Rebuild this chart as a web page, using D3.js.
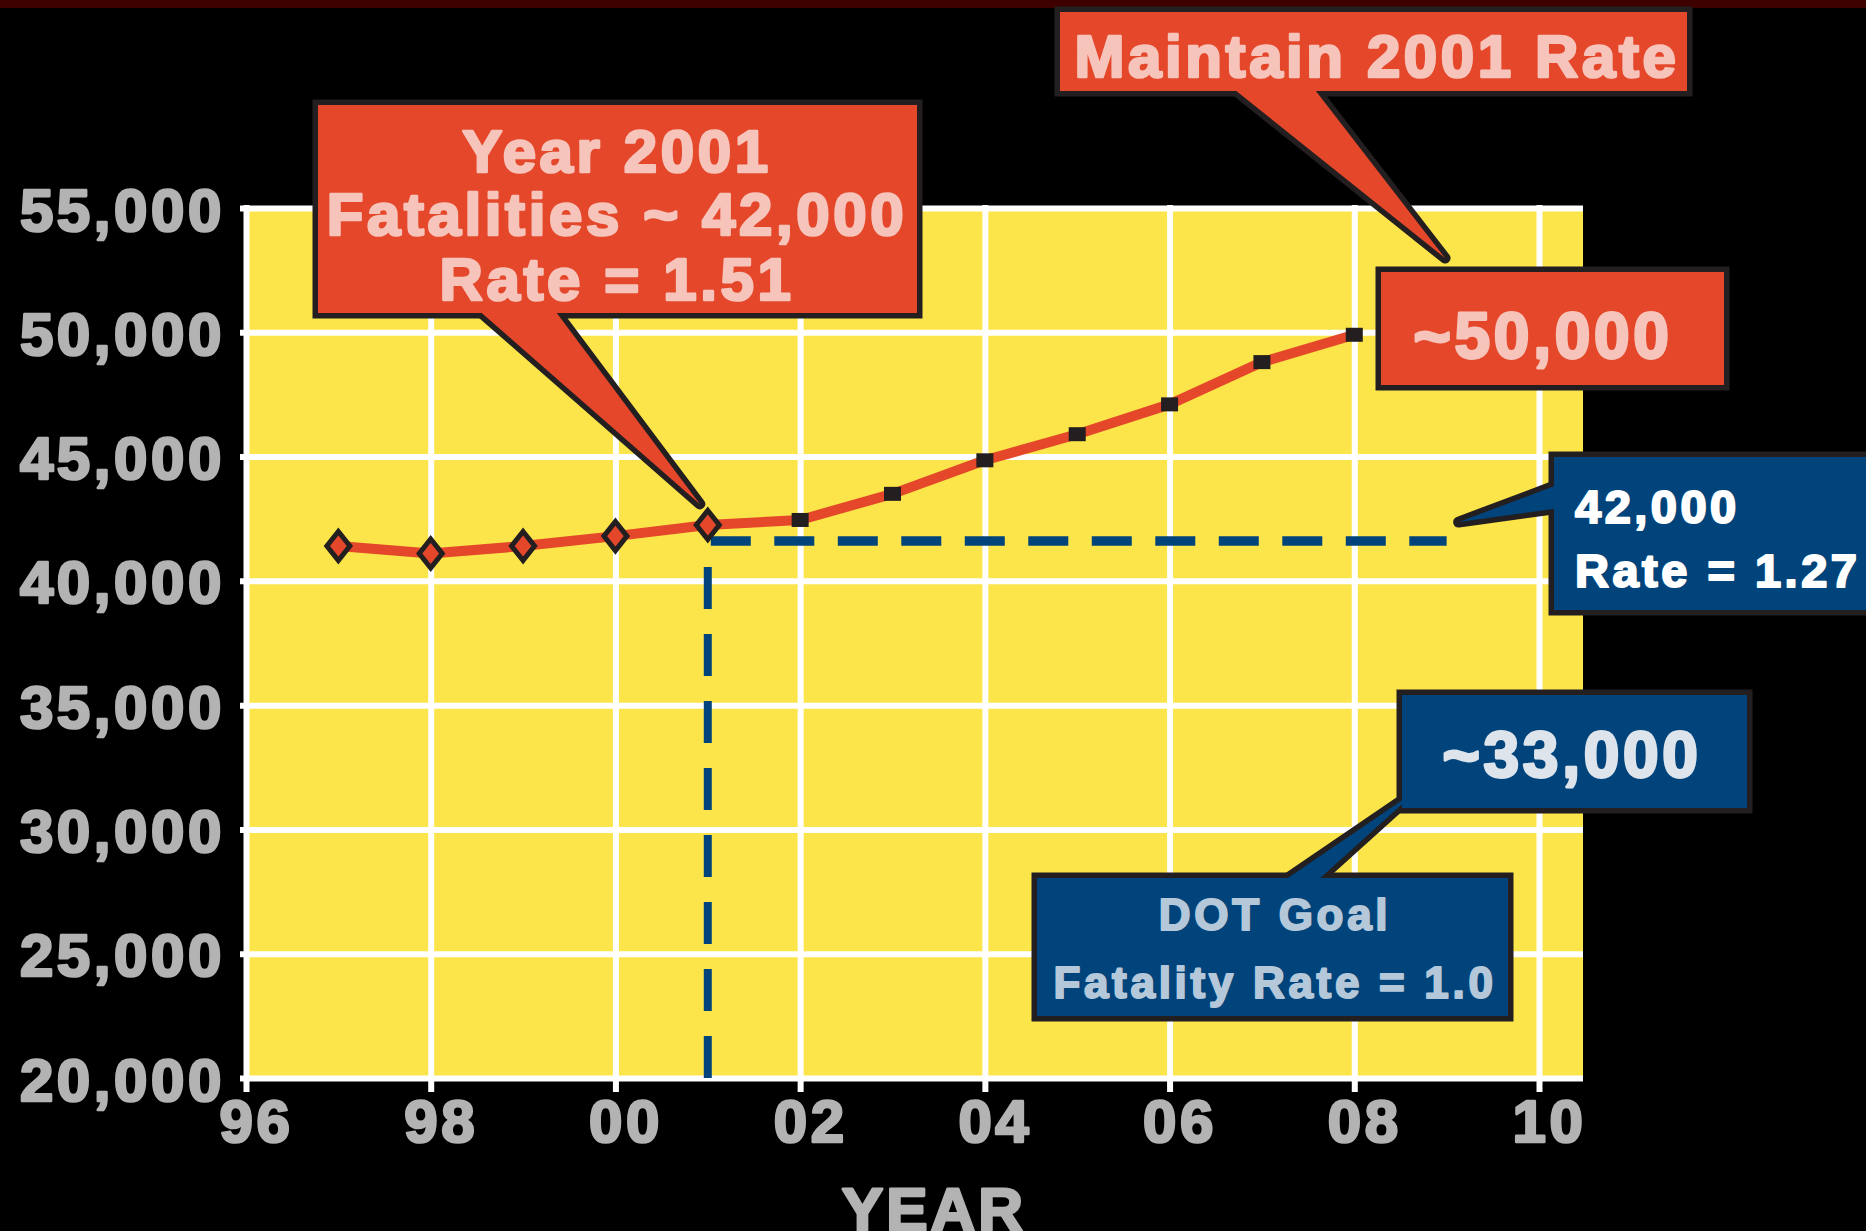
<!DOCTYPE html>
<html>
<head>
<meta charset="utf-8">
<script src="https://cdn.jsdelivr.net/npm/d3@7"></script>
<style>
body { margin: 0; background: #000; }
svg { display: block; }
text { font-family: "Liberation Sans", Arial, sans-serif; font-weight: bold; }
</style>
</head>
<body>
<svg id="chart" width="1866" height="1231"></svg>
<script>
// values
var actualYears = [1997, 1998, 1999, 2000, 2001]
var actualDeaths = [41400, 41100, 41400, 41800, 42250]
var projYears = [2002, 2003, 2004, 2005, 2006, 2007, 2008]
var projDeaths = [42450, 43500, 44850, 45900, 47100, 48800, 49900]
var xTickYears = [1996, 1998, 2000, 2002, 2004, 2006, 2008, 2010]
var xTickLabels = ['96', '98', '00', '02', '04', '06', '08', '10']
var yTicks = [20000, 25000, 30000, 35000, 40000, 45000, 50000, 55000]
var flatLevel = 41600      // dashed "hold 2001" line
var flatFrom = 2001, flatTo = 2009
var dropTop = 40750        // top of the vertical dashed line at 2001

var noteYear = ['Year 2001', 'Fatalities ~ 42,000', 'Rate = 1.51']
var noteMaintain = ['Maintain 2001 Rate']
var note50k = ['~50,000']
var note42k = ['42,000', 'Rate = 1.27']
var note33k = ['~33,000']
var noteGoal = ['DOT Goal', 'Fatality Rate = 1.0']

var W = 1866, H = 1231
var red = '#e4472a', ink = '#231f20', navy = '#00447b', yellow = '#fce54a', grey = '#b3b3b3'
var plot = { l: 246, r: 1583, t: 208, b: 1078 }

var svg = d3.select('#chart')
svg.append('rect').attr('width', W).attr('height', H).attr('fill', '#000')
svg.append('rect').attr('width', W).attr('height', 8).attr('fill', '#3f0000')

var x = d3.scaleLinear().domain([1996, 2010]).range([plot.l, 1539])
var y = d3.scaleLinear().domain([20000, 55000]).range([plot.b, plot.t])

// heavy look: fill + same-colour stroke
function heavy(sel, size, ls, color) {
    sel.attr('font-size', size).attr('letter-spacing', ls)
        .attr('fill', color).attr('stroke', color)
        .attr('stroke-width', size * 0.045).attr('stroke-linejoin', 'round')
}

svg.append('rect')
    .attr('x', plot.l).attr('y', plot.t)
    .attr('width', plot.r - plot.l).attr('height', plot.b - plot.t)
    .attr('fill', yellow)

// y grid + labels
var yAxis = svg.append('g')
    .attr('transform', 'translate(240,0)')
    .call(d3.axisLeft(y).tickValues(yTicks).tickFormat(d3.format(','))
        .tickSizeInner(-(plot.r - 240)).tickSizeOuter(0).tickPadding(15))
yAxis.select('.domain').remove()
yAxis.selectAll('line').attr('stroke', '#fff').attr('stroke-width', 6)
yAxis.selectAll('text').attr('dy', 22).call(heavy, 60, 3.6, grey)

// x grid + labels
var xAxis = svg.append('g')
    .attr('transform', 'translate(0,1092)')
    .call(d3.axisBottom(x).tickValues(xTickYears).tickFormat((d, i) => xTickLabels[i])
        .tickSizeInner(-(1092 - plot.t + 3)).tickSizeOuter(0).tickPadding(0))
xAxis.select('.domain').remove()
xAxis.selectAll('line').attr('stroke', '#fff').attr('stroke-width', 6)
xAxis.selectAll('text')
    .attr('dy', 0).attr('y', 50).attr('dx', 10)
    .call(heavy, 60, 3.6, grey)

svg.append('text')
    .attr('x', 934).attr('y', 1231).attr('text-anchor', 'middle')
    .call(heavy, 62, 3, grey)
    .text('YEAR')

// dashed reference lines
svg.append('line')
    .attr('x1', x(flatFrom)).attr('x2', x(flatFrom))
    .attr('y1', y(20000)).attr('y2', y(dropTop))
    .attr('stroke', navy).attr('stroke-width', 8).attr('stroke-dasharray', '42,25')
svg.append('line')
    .attr('x1', x(flatFrom) + 3).attr('x2', x(flatTo))
    .attr('y1', y(flatLevel)).attr('y2', y(flatLevel))
    .attr('stroke', navy).attr('stroke-width', 9.5).attr('stroke-dasharray', '40,23.5')

// trend line
var allYears = actualYears.concat(projYears)
var allDeaths = actualDeaths.concat(projDeaths)
var pts = allYears.map((d, i) => [d, allDeaths[i]])
svg.append('path')
    .datum(pts)
    .attr('d', d3.line().x(d => x(d[0])).y(d => y(d[1])))
    .attr('fill', 'none').attr('stroke', red).attr('stroke-width', 10)
    .attr('stroke-linejoin', 'round')

svg.selectAll('path.diamond')
    .data(actualYears)
    .join('path')
    .attr('class', 'diamond')
    .attr('transform', (d, i) => 'translate(' + x(d) + ',' + y(actualDeaths[i]) + ')')
    .attr('d', 'M0,-14.5L11.5,0L0,14.5L-11.5,0Z')
    .attr('fill', red).attr('stroke', ink).attr('stroke-width', 5)

svg.selectAll('rect.sq')
    .data(projYears)
    .join('rect')
    .attr('class', 'sq')
    .attr('x', d => x(d) - 8.5)
    .attr('y', (d, i) => y(projDeaths[i]) - 7)
    .attr('width', 17).attr('height', 14)
    .attr('fill', ink)

// callouts
function box(x0, y0, x1, y1) {
    return [[x0, y0], [x1, y0], [x1, y1], [x0, y1]]
}

function callout(shapes, fill) {
    var g = svg.append('g')
    g.selectAll('path.edge').data(shapes).join('path')
        .attr('class', 'edge')
        .attr('d', d => 'M' + d.join('L') + 'Z')
        .attr('fill', ink).attr('stroke', ink).attr('stroke-width', 11)
        .attr('stroke-linejoin', d => d.length == 3 ? 'round' : 'miter')
    g.selectAll('path.face').data(shapes).join('path')
        .attr('class', 'face')
        .attr('d', d => 'M' + d.join('L') + 'Z')
        .attr('fill', fill)
    return g
}

function lines(g, txt, cx, base, size, color, anchor, ls) {
    g.selectAll('text').data(txt).join('text')
        .attr('x', cx).attr('y', (d, i) => base[i])
        .attr('text-anchor', anchor || 'middle')
        .call(heavy, size, ls, color)
        .text(d => d)
}

var pink = '#f6c4ba'

var g1 = callout([
    box(318, 105, 917, 313),
    [[476, 308], [x(2001) - 8, y(actualDeaths[4]) - 21], [553, 308]]
], red)
lines(g1, noteYear, 617, [172, 235, 300], 60, pink, 'middle', 3.6)

var g2 = callout([
    box(1060, 12, 1687, 91),
    [[1230, 86], [1445, 258], [1312, 86]]
], red)
lines(g2, noteMaintain, 1377, [77], 60, pink, 'middle', 3.6)

var g3 = callout([box(1381, 272, 1724, 385)], red)
lines(g3, note50k, 1543, [358], 64, pink, 'middle', 3.7)

var g4 = callout([
    box(1554, 457, 1890, 610),
    [[1560, 484], [x(flatTo) + 12, y(flatLevel) - 19], [1560, 508]]
], navy)
lines(g4, note42k, 1575, [523, 587], 47, '#ffffff', 'start', 3.5)

var g5 = callout([
    box(1402, 695, 1747, 808),
    box(1037, 878, 1508, 1016),
    [[1285, 880], [1318, 880], [1420, 788]]
], navy)
lines(g5, note33k, 1572, [777], 64, '#dde4ec', 'middle', 3.7)
var g6 = svg.append('g')
lines(g6, noteGoal, 1275, [930, 998], 44, '#b5c8da', 'middle', 3.7)
</script>
</body>
</html>
